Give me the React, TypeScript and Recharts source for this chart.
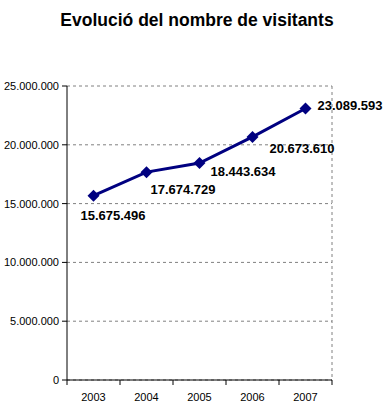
import { CartesianGrid, LabelList, Line, LineChart, XAxis, YAxis } from 'recharts'

const years = ['2003', '2004', '2005', '2006', '2007']
const visitors = [15675496, 17674729, 18443634, 20673610, 23089593]
const yTicks = [0, 5000000, 10000000, 15000000, 20000000, 25000000]

const data = years.map((year, i) => ({ year, visitors: visitors[i] }))

const fmt = (v: number) => v.toLocaleString('de-DE')

// Excel had these labels dragged around by hand
const labelOffsets = [
  { dx: -13, dy: 24 },
  { dx: 4, dy: 22 },
  { dx: 11, dy: 13 },
  { dx: 17, dy: 16 },
  { dx: 12, dy: 2 },
]

const font = '"Liberation Sans", Arial, sans-serif'
const halfBand = 26.5

function Diamond({ cx, cy }: { cx?: number; cy?: number }) {
  if (cx == null || cy == null) return null
  return (
    <path
      d={`M${cx},${cy - 6} L${cx + 6},${cy} L${cx},${cy + 6} L${cx - 6},${cy} Z`}
      fill="#000080"
    />
  )
}

function ValueLabel(props: any) {
  const { x, y, value, index } = props
  const off = labelOffsets[index] ?? { dx: 0, dy: 0 }
  return (
    <text
      x={x + off.dx}
      y={y + off.dy}
      fontFamily={font}
      fontSize={13}
      fontWeight="bold"
      fill="#000"
    >
      {fmt(value)}
    </text>
  )
}

// category ticks sit between the years, like Excel
function YearTick(props: any) {
  const { x, y, payload, index, visibleTicksCount } = props
  const last = index === (visibleTicksCount ?? years.length) - 1
  return (
    <g>
      <line x1={x - halfBand} y1={y} x2={x - halfBand} y2={y + 5} stroke="#000" />
      {last && <line x1={x + halfBand} y1={y} x2={x + halfBand} y2={y + 5} stroke="#000" />}
      <text x={x} y={y + 21} textAnchor="middle" fontFamily={font} fontSize={11} fill="#000">
        {payload.value}
      </text>
    </g>
  )
}

export default function App() {
  return (
    <div style={{ position: 'absolute', left: 0, top: 0, width: 388, height: 417, background: '#fff' }}>
      <div
        style={{
          position: 'absolute',
          top: 8,
          left: 0,
          width: 394,
          textAlign: 'center',
          fontFamily: font,
          fontSize: 17.5,
          fontWeight: 'bold',
          lineHeight: '24px',
        }}
      >
        Evolució del nombre de visitants
      </div>
      <LineChart
        width={388}
        height={417}
        data={data}
        margin={{ top: 86, right: 56, bottom: 0, left: 0 }}
      >
        <CartesianGrid
          stroke="#808080"
          strokeDasharray="3 3"
          verticalCoordinatesGenerator={({ offset }: any) => [offset.left + offset.width]}
        />
        <XAxis
          dataKey="year"
          height={37}
          stroke="#000"
          tickLine={false}
          tickSize={0}
          tickMargin={0}
          tick={<YearTick />}
          padding={{ left: halfBand, right: halfBand }}
          interval={0}
        />
        <YAxis
          width={67}
          domain={[0, 25000000]}
          ticks={yTicks}
          tickFormatter={fmt}
          stroke="#000"
          tickSize={5}
          tickMargin={3}
          tick={{ fontFamily: font, fontSize: 11, fill: '#000' }}
        />
        <Line
          dataKey="visitors"
          stroke="#000080"
          strokeWidth={3}
          dot={<Diamond />}
          activeDot={false}
          isAnimationActive={false}
        >
          <LabelList dataKey="visitors" content={<ValueLabel />} />
        </Line>
      </LineChart>
    </div>
  )
}
